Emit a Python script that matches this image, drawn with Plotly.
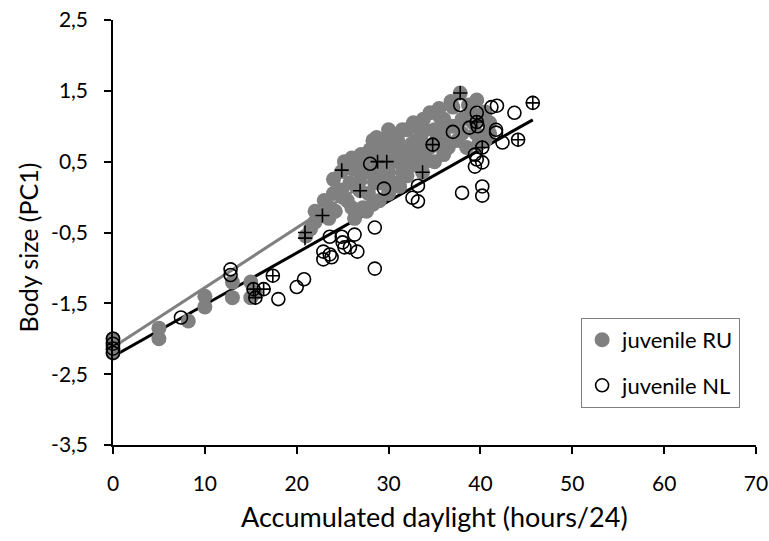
import plotly.graph_objects as go

# juvenile RU (grey filled)
ru_x = [0, 0, 0, 0, 0, 5, 5, 8.2, 10, 10, 13, 13, 15, 15, 15.5,
        21, 21.5, 22, 22.8, 23.5, 23.6, 24, 24, 24.9, 24.9, 25.5, 25.8, 26, 26.9, 27,
        27.6, 27.6, 27.8, 28, 28.5, 28.7, 28.8, 29, 29.5, 29.8, 30, 30.5, 30.5, 31,
        31.5, 31.5, 32, 32, 32.5, 33, 33.1, 33.5, 33.7, 34, 34.5, 34.5, 35, 35.6, 36,
        36, 36.5, 37, 37.5, 37.8, 38, 38.5, 39, 39.6, 39.5, 40, 41, 40.5, 35, 34.8,
        25, 26, 26.5, 27, 28, 28.3, 29, 29.2, 30, 30, 30.8, 31, 31.2, 32, 32.3, 33, 33,
        34, 34, 35, 35.3, 36, 36.5, 37, 38, 38.7, 39.2, 39.8, 40.5, 41, 36.8, 35.5,
        33.8, 32.7, 31.5, 30, 29.5, 28.3, 27, 26, 25.2, 22, 23, 24.2, 26.3, 27.2]
ru_y = [-2.0, -2.05, -2.1, -2.15, -2.2, -1.85, -2.0, -1.75, -1.4, -1.55, -1.42, -1.2, -1.2, -1.42, -1.35,
        -0.55, -0.45, -0.35, -0.26, -0.3, -0.15, 0.05, 0.25, 0.36, 0.1, -0.05, 0.2, 0.4, 0.09, 0.3,
        0.55, -0.2, 0.05, 0.67, 0.2, 0.84, 0.5, -0.05, 0.35, 0.5, 0.7, 0.85, 0.2, 0.5,
        0.65, 0.35, 0.95, 0.49, 0.75, 0.6, 1.0, 0.85, 0.35, 0.5, 1.19, 0.7, 0.95, 1.13, 0.6,
        0.85, 1.0, 1.27, 0.8, 1.47, 1.1, 0.7, 1.2, 1.37, 0.9, 1.1, 1.05, 0.8, 0.74, 0.74,
        0.0, -0.15, 0.15, 0.45, 0.35, -0.1, 0.65, 0.2, 0.05, 0.35, 0.65, 0.8, 0.15, 0.3, 0.65, 0.45, 0.8,
        0.95, 0.65, 0.5, 0.85, 1.1, 0.7, 1.0, 0.9, 1.3, 1.05, 0.75, 1.2, 0.9, 1.35, 1.25,
        1.1, 1.05, 0.95, 0.95, 0.8, 0.8, 0.6, 0.55, 0.5, -0.2, -0.05, -0.2, -0.3, -0.15]

# juvenile NL (open circles)
nl_x = [0, 0, 0, 0, 7.4, 12.8, 12.8, 15.3, 16.4, 15.5, 17.4, 18.0, 20.0, 20.8,
        23.6, 24.9, 26.3, 28.5, 22.9, 23.6, 23.8, 22.9, 25.0, 25.2, 26.6, 25.8, 28.5,
        28.0, 29.5, 33.2, 32.6, 33.2,
        37.8, 41.2, 41.8, 45.7, 43.7, 39.6, 39.6, 38.8, 39.7, 37.0, 41.7, 41.7, 44.1,
        42.4, 34.8, 40.2, 39.4, 39.6, 40.2, 39.4, 38.0, 40.2, 40.2]
nl_y = [-2.0, -2.07, -2.14, -2.2, -1.7, -1.02, -1.1, -1.30, -1.30, -1.42, -1.11, -1.44, -1.27, -1.16,
        -0.56, -0.56, -0.53, -0.43, -0.77, -0.81, -0.85, -0.88, -0.64, -0.71, -0.77, -0.71, -1.01,
        0.47, 0.12, 0.16, -0.01, -0.06,
        1.30, 1.27, 1.29, 1.33, 1.19, 1.19, 1.06, 0.98, 1.0, 0.92, 0.95, 0.91, 0.81,
        0.77, 0.74, 0.70, 0.60, 0.53, 0.49, 0.43, 0.06, 0.15, 0.02]

# cross-marked individuals
cr_x = [20.9, 20.9, 22.8, 24.9, 26.9, 28.8, 29.8, 33.7, 37.8,
        15.3, 16.4, 15.5, 17.4, 34.8, 39.6, 40.2, 44.1, 45.7]
cr_y = [-0.50, -0.58, -0.26, 0.38, 0.09, 0.50, 0.50, 0.35, 1.47,
        -1.30, -1.30, -1.42, -1.11, 0.74, 1.06, 0.70, 0.81, 1.33]

# regression lines (end points)
ru_line_x = [0, 40]
ru_line_y = [-2.12, 1.25]
nl_line_x = [0, 45.7]
nl_line_y = [-2.25, 1.09]

x_ticks = [0, 10, 20, 30, 40, 50, 60, 70]
y_ticks = [-3.5, -2.5, -1.5, -0.5, 0.5, 1.5, 2.5]
y_tick_text = ["-3,5", "-2,5", "-1,5", "-0,5", "0,5", "1,5", "2,5"]

GREY = "#808080"
FONT = "Lato"

fig = go.Figure()
fig.add_trace(go.Scatter(x=ru_line_x, y=ru_line_y, mode="lines",
                         line=dict(color=GREY, width=3), showlegend=False, hoverinfo="skip"))
fig.add_trace(go.Scatter(x=nl_line_x, y=nl_line_y, mode="lines",
                         line=dict(color="black", width=3), showlegend=False, hoverinfo="skip"))
fig.add_trace(go.Scatter(x=ru_x, y=ru_y, mode="markers", name="juvenile RU", legendgroup="ru",
                         marker=dict(color=GREY, size=15, line=dict(width=0)), cliponaxis=False))
fig.add_trace(go.Scatter(x=nl_x, y=nl_y, mode="markers", name="juvenile NL", legendgroup="nl",
                         marker=dict(symbol="circle-open", color="black", size=13,
                                     line=dict(width=1.6, color="black")), cliponaxis=False))
fig.add_trace(go.Scatter(x=cr_x, y=cr_y, mode="markers", showlegend=False,
                         marker=dict(symbol="cross-thin-open", color="black", size=10,
                                     line=dict(width=1.6, color="black")), cliponaxis=False))

fig.update_layout(
    width=769, height=541,
    margin=dict(l=113, r=13, t=20, b=96),
    paper_bgcolor="white", plot_bgcolor="white",
    font=dict(family=FONT, size=21, color="black"),
    showlegend=True,
    legend=dict(x=0.728, y=0.299, xanchor="left", yanchor="top",
                bordercolor=GREY, borderwidth=1, bgcolor="white",
                font=dict(family=FONT, size=22, color="black"),
                itemwidth=30, tracegroupgap=14),
    xaxis=dict(range=[0, 70], tickvals=x_ticks, showgrid=False, zeroline=False, automargin=False,
               showline=True, linecolor="black", linewidth=1.5,
               ticks="outside", ticklen=7, tickwidth=1.5, tickcolor="black",
               ticklabelstandoff=12, ticklabeloverflow="allow"),
    yaxis=dict(range=[-3.5, 2.5], tickvals=y_ticks, ticktext=y_tick_text,
               showgrid=False, zeroline=False, automargin=False,
               showline=True, linecolor="black", linewidth=1.5,
               ticks="outside", ticklen=7, tickwidth=1.5, tickcolor="black",
               ticklabelstandoff=12, ticklabeloverflow="allow"),
    annotations=[
        dict(text="Accumulated daylight (hours/24)", xref="paper", yref="paper",
             x=0.5, y=-0.169, xanchor="center", yanchor="middle", showarrow=False,
             font=dict(family=FONT, size=27, color="black")),
        dict(text="Body size (PC1)", xref="paper", yref="paper", textangle=-90,
             x=-0.132, y=0.465, xanchor="center", yanchor="middle", showarrow=False,
             font=dict(family=FONT, size=25, color="black")),
    ],
)

fig.write_html("out.html", config={"displayModeBar": False},
               post_script="document.body.style.margin='0';document.body.style.overflow='hidden';")
